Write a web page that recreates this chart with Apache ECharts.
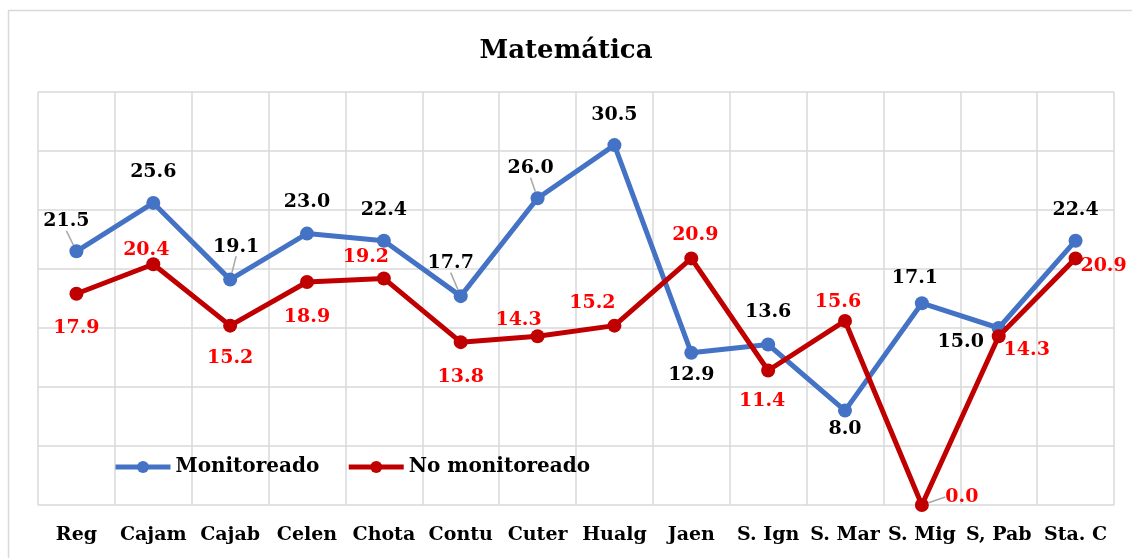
<!DOCTYPE html>
<html>
<head>
<meta charset="utf-8">
<script src="https://cdn.jsdelivr.net/npm/echarts@6/dist/echarts.min.js"></script>
<style>
  html, body { margin: 0; padding: 0; background: #fff; }
  #chart { width: 1132px; height: 558px; }
</style>
</head>
<body>
<div id="chart"></div>
<script>
// datos
var provincias = ["Reg", "Cajam", "Cajab", "Celen", "Chota", "Contu", "Cuter", "Hualg", "Jaen", "S. Ign", "S. Mar", "S. Mig", "S, Pab", "Sta. C"];
var monitoreado = [21.5, 25.6, 19.1, 23.0, 22.4, 17.7, 26.0, 30.5, 12.9, 13.6, 8.0, 17.1, 15.0, 22.4];
var noMonitoreado = [17.9, 20.4, 15.2, 18.9, 19.2, 13.8, 14.3, 15.2, 20.9, 11.4, 15.6, 0.0, 14.3, 20.9];

// desplazamiento de etiquetas (como en el grafico original)
var offMon = [[-10, -30], [0, -31], [6, -33], [0, -32], [0, -31], [-10, -33], [-7, -30], [0, -30], [0, 22], [0, -32], [0, 18], [-7, -25], [-38, 14], [0, -31]];
var offNoMon = [[0, 34], [-7, -14], [0, 32], [0, 35], [-18, -21], [0, 35], [-19, -16], [-22, -23], [4, -23], [-6, 31], [-7, -19], [40, -8], [28, 14], [28, 8]];
// etiquetas con linea guia
var guiaMon = [0, 2, 5, 6];
var guiaNoMon = [11];

var FONT = "DejaVu Serif";

function armar(valores, guias) {
  return valores.map(function(v, i) {
    var d = { value: v };
    if (guias.indexOf(i) >= 0) d.labelLine = { show: true };
    return d;
  });
}

var chart = echarts.init(document.getElementById("chart"));
var option = {
  animation: false,
  backgroundColor: "#fff",
  title: {
    text: "Matemática",
    left: "center",
    top: 33,
    textStyle: { fontFamily: FONT, fontWeight: "bold", fontSize: 26, color: "#000" }
  },
  graphic: [{
    type: "rect",
    shape: { x: 8.5, y: 10.5, width: 1140, height: 560 },
    style: { fill: "none", stroke: "#d9d9d9", lineWidth: 1.5 },
    z: -1
  }],
  legend: {
    left: 113,
    top: 457,
    padding: 0,
    itemWidth: 55,
    itemHeight: 15,
    itemGap: 27,
    lineStyle: { width: 5 },
    textStyle: { fontFamily: FONT, fontWeight: "bold", fontSize: 20, color: "#000" },
    data: ["Monitoreado", "No monitoreado"]
  },
  grid: { left: 38, right: 18, top: 92, bottom: 53 },
  xAxis: {
    type: "category",
    data: provincias,
    boundaryGap: true,
    axisLine: { show: false },
    axisTick: { show: false },
    splitLine: { show: true, lineStyle: { color: "#d9d9d9", width: 1.5 } },
    axisLabel: { margin: 21, fontFamily: FONT, fontWeight: "bold", fontSize: 19, color: "#000", interval: 0 }
  },
  yAxis: {
    type: "value",
    min: 0,
    max: 35,
    interval: 5,
    axisLine: { show: false },
    axisTick: { show: false },
    axisLabel: { show: false },
    splitLine: { show: true, lineStyle: { color: "#d9d9d9", width: 1.5 } }
  },
  series: [
    {
      name: "Monitoreado",
      type: "line",
      data: armar(monitoreado, guiaMon),
      symbol: "circle",
      symbolSize: 14,
      lineStyle: { color: "#4472C4", width: 5 },
      itemStyle: { color: "#4472C4" },
      label: {
        show: true,
        position: "inside",
        formatter: function(p) { return p.value.toFixed(1); },
        fontFamily: FONT, fontWeight: "bold", fontSize: 19, color: "#000"
      },
      labelLine: { show: false, lineStyle: { color: "#a6a6a6", width: 1.5 } },
      labelLayout: function(p) {
        return { dx: offMon[p.dataIndex][0], dy: offMon[p.dataIndex][1] };
      },
      z: 2
    },
    {
      name: "No monitoreado",
      type: "line",
      data: armar(noMonitoreado, guiaNoMon),
      symbol: "circle",
      symbolSize: 14,
      lineStyle: { color: "#C00000", width: 5 },
      itemStyle: { color: "#C00000" },
      label: {
        show: true,
        position: "inside",
        formatter: function(p) { return p.value.toFixed(1); },
        fontFamily: FONT, fontWeight: "bold", fontSize: 19, color: "#FF0000"
      },
      labelLine: { show: false, lineStyle: { color: "#a6a6a6", width: 1.5 } },
      labelLayout: function(p) {
        return { dx: offNoMon[p.dataIndex][0], dy: offNoMon[p.dataIndex][1] };
      },
      z: 3
    }
  ]
};
chart.setOption(option);
</script>
</body>
</html>
